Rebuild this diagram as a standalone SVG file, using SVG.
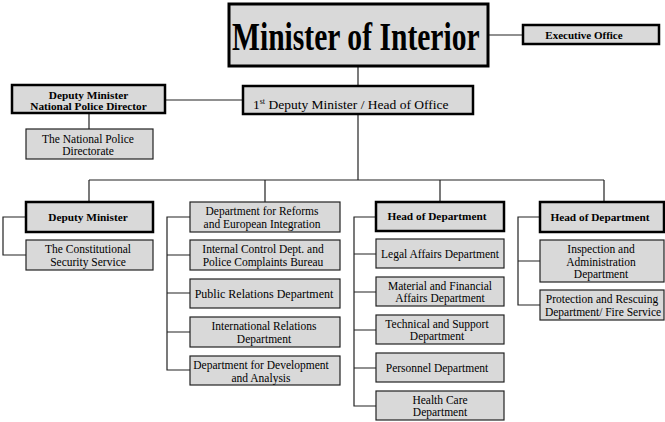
<svg xmlns="http://www.w3.org/2000/svg" width="665" height="422" viewBox="0 0 665 422">
  <style>
    .box { fill: #d9d9d9; stroke: #222; stroke-width: 1.2; }
    .head { fill: #d9d9d9; stroke: #000; stroke-width: 2.5; }
    .top { fill: #d9d9d9; stroke: #000; stroke-width: 3; }
    .t { font-family: "Liberation Serif", "Times New Roman", serif; font-size: 11.5px; fill: #000; text-anchor: middle; }
    .b { font-family: "Liberation Serif", "Times New Roman", serif; font-size: 11.3px; font-weight: bold; fill: #000; text-anchor: middle; }
    .link { fill: none; stroke: #222; stroke-width: 1.2; }
  </style>
  <rect width="665" height="422" fill="#ffffff"/>

  <!-- connectors -->
  <g id="connectors">
    <path class="link" d="M488 35 H523"/>
    <path class="link" d="M358 66 V86"/>
    <path class="link" d="M165 100 H243"/>
    <path class="link" d="M89 113 V129"/>
    <path class="link" d="M358 114 V180"/>
    <path class="link" d="M89 180 H604"/>
    <path class="link" d="M89 180 V202 M265 180 V202 M440 180 V202 M604 180 V202"/>
    <path class="link" d="M26 217 H3 V255 H26"/>
    <path class="link" d="M190 217 H167 V370 H190 M167 255 H190 M167 293 H190 M167 332 H190"/>
    <path class="link" d="M376 217 H354 V406 H376 M354 254 H376 M354 292 H376 M354 330 H376 M354 368 H376"/>
    <path class="link" d="M540 217 H518 V305 H540 M518 261 H540"/>
  </g>

  <!-- top level -->
  <g id="minister">
    <rect class="top" x="229" y="4" width="259" height="62"/>
    <text transform="translate(232 50) scale(1 1.32)" font-family="'Liberation Serif', 'Times New Roman', serif" font-size="29.6" font-weight="bold">Minister of Interior</text>
  </g>
  <g id="executive-office">
    <rect class="head" x="523" y="25" width="136" height="19" stroke-width="2"/>
    <text class="b" x="584" y="38.5" style="font-size:11px">Executive Office</text>
  </g>
  <g id="first-deputy">
    <rect class="head" x="243" y="86" width="230" height="28"/>
    <text x="253" y="109" font-family="'Liberation Serif', 'Times New Roman', serif" font-size="13.5">1<tspan font-size="8" dy="-5">st</tspan><tspan dy="5"> Deputy Minister / Head of Office</tspan></text>
  </g>
  <g id="police-director">
    <rect class="head" x="12" y="85" width="153" height="28"/>
    <text class="b" x="88.5" y="98.5">Deputy Minister</text>
    <text class="b" x="88.5" y="109.5">National Police Director</text>
  </g>
  <g id="police-directorate">
    <rect class="box" x="26" y="129" width="127" height="30"/>
    <text class="t" x="88" y="142.5">The National Police</text>
    <text class="t" x="88" y="154.5">Directorate</text>
  </g>

  <!-- column 1 -->
  <g id="deputy-minister">
    <rect class="head" x="26" y="202" width="127" height="30"/>
    <text class="b" x="88" y="221">Deputy Minister</text>
  </g>
  <g id="constitutional-security">
    <rect class="box" x="26" y="240" width="127" height="30"/>
    <text class="t" x="88" y="253">The Constitutional</text>
    <text class="t" x="88" y="266">Security Service</text>
  </g>

  <!-- column 2 -->
  <g id="reforms">
    <rect class="box" x="190" y="202" width="150" height="30"/>
    <text class="t" x="262" y="214.5">Department for Reforms</text>
    <text class="t" x="262" y="227.5">and European Integration</text>
  </g>
  <g id="internal-control">
    <rect class="box" x="190" y="240" width="150" height="30"/>
    <text class="t" x="263" y="253">Internal Control Dept. and</text>
    <text class="t" x="263" y="266">Police Complaints Bureau</text>
  </g>
  <g id="public-relations">
    <rect class="box" x="190" y="279" width="150" height="29"/>
    <text class="t" x="264" y="298" style="font-size:12px">Public Relations Department</text>
  </g>
  <g id="international-relations">
    <rect class="box" x="190" y="317" width="150" height="30"/>
    <text class="t" x="264" y="330">International Relations</text>
    <text class="t" x="264" y="343">Department</text>
  </g>
  <g id="development">
    <rect class="box" x="190" y="356" width="150" height="29"/>
    <text class="t" x="261" y="368.5">Department for Development</text>
    <text class="t" x="261" y="381.5">and Analysis</text>
  </g>

  <!-- column 3 -->
  <g id="head-department-1">
    <rect class="head" x="376" y="202" width="128" height="29"/>
    <text class="b" x="437" y="220">Head of Department</text>
  </g>
  <g id="legal-affairs">
    <rect class="box" x="376" y="239" width="128" height="29"/>
    <text class="t" x="440" y="258">Legal Affairs Department</text>
  </g>
  <g id="material-financial">
    <rect class="box" x="376" y="277" width="128" height="29"/>
    <text class="t" x="440" y="289.5">Material and Financial</text>
    <text class="t" x="440" y="302">Affairs Department</text>
  </g>
  <g id="technical-support">
    <rect class="box" x="376" y="315" width="128" height="29"/>
    <text class="t" x="437" y="327.5">Technical and Support</text>
    <text class="t" x="437" y="340">Department</text>
  </g>
  <g id="personnel">
    <rect class="box" x="376" y="353" width="128" height="29"/>
    <text class="t" x="437" y="372">Personnel Department</text>
  </g>
  <g id="health-care">
    <rect class="box" x="376" y="391" width="128" height="29"/>
    <text class="t" x="440" y="403.5">Health Care</text>
    <text class="t" x="440" y="416">Department</text>
  </g>

  <!-- column 4 -->
  <g id="head-department-2">
    <rect class="head" x="540" y="202" width="124" height="30"/>
    <text class="b" x="600" y="220.5">Head of Department</text>
  </g>
  <g id="inspection">
    <rect class="box" x="540" y="240" width="124" height="42"/>
    <text class="t" x="601" y="253">Inspection and</text>
    <text class="t" x="601" y="265.5">Administration</text>
    <text class="t" x="601" y="278">Department</text>
  </g>
  <g id="protection-rescue">
    <rect class="box" x="540" y="290" width="124" height="30"/>
    <text class="t" x="602" y="303">Protection and Rescuing</text>
    <text class="t" x="603" y="316">Department/ Fire Service</text>
  </g>
</svg>
